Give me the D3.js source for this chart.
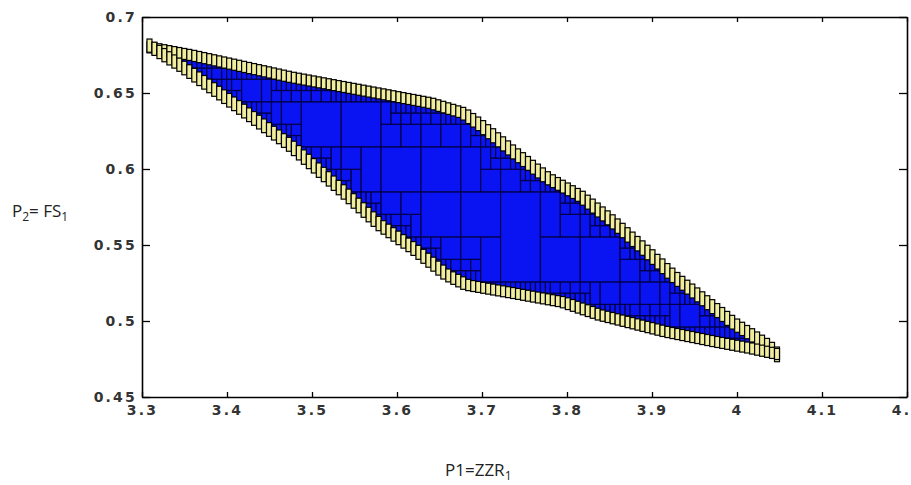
<!DOCTYPE html>
<html>
<head>
<meta charset="utf-8">
<script src="https://cdn.jsdelivr.net/npm/d3@7"></script>
<style>
  body { margin: 0; background: #fff; }
  svg { display: block; }
</style>
</head>
<body>
<div id="chart"></div>
<script>
// 1. data
var xTicks = [3.3, 3.4, 3.5, 3.6, 3.7, 3.8, 3.9, 4, 4.1, 4.2];
var yTicks = [0.45, 0.5, 0.55, 0.6, 0.65, 0.7];

// outer edges of the yellow (undetermined) band, P1 -> P2
var upperEdge = [
  [3.3059, 0.6836], [3.3565, 0.6783], [3.4741, 0.6638], [3.5882, 0.6520],
  [3.6388, 0.6467], [3.6776, 0.6401], [3.6976, 0.6322], [3.7365, 0.6145],
  [3.7765, 0.5974], [3.8153, 0.5855], [3.8541, 0.5684], [3.8941, 0.5487],
  [3.9247, 0.5329], [3.9565, 0.5191], [3.9953, 0.5020], [4.0353, 0.4875],
  [4.0529, 0.4783]
];
var lowerEdge = [
  [3.3059, 0.6789], [3.3482, 0.6638], [3.4153, 0.6368], [3.4741, 0.6125],
  [3.5388, 0.5809], [3.5800, 0.5599], [3.6188, 0.5447], [3.6588, 0.5270],
  [3.6824, 0.5204], [3.7365, 0.5151], [3.7953, 0.5092], [3.8388, 0.5007],
  [3.9176, 0.4895], [3.9765, 0.4829], [4.0153, 0.4789], [4.0529, 0.4743]
];

// paving settings: start box, stop width, thickness of the yellow band
var startBox = [3.3, 4.05, 0.4665, 0.7035];
var eps = 0.008;
var thick = 0.0066;

var width = 911, height = 485;

var x = d3.scaleLinear().domain([3.3, 4.2]).range([142, 907]);
var y = d3.scaleLinear().domain([0.45, 0.7]).range([397, 17]);

// 2. paving
var xMin = upperEdge[0][0], xMax = upperEdge[upperEdge.length - 1][0];
var bis = d3.bisector(function(d) { return d[0]; }).right;

function interp(curve, xv) {
  var i = bis(curve, xv);
  if (i <= 0) return curve[0][1];
  if (i >= curve.length) return curve[curve.length - 1][1];
  var a = curve[i - 1], b = curve[i];
  return a[1] + (b[1] - a[1]) * (xv - a[0]) / (b[0] - a[0]);
}
function rangeOver(curve, x0, x1) {
  var vals = [interp(curve, x0), interp(curve, x1)];
  curve.forEach(function(p) { if (p[0] > x0 && p[0] < x1) vals.push(p[1]); });
  return d3.extent(vals);
}

var inner = [], boundary = [];

function sivia(b) {
  var cx0 = Math.max(b[0], xMin), cx1 = Math.min(b[1], xMax);
  if (cx0 >= cx1) return;
  var u = rangeOver(upperEdge, cx0, cx1), l = rangeOver(lowerEdge, cx0, cx1);
  var uMin = u[0] - thick, uMax = u[1] - thick;
  var lMin = l[0] + thick, lMax = l[1] + thick;
  if (uMax <= lMin || b[2] >= uMax || b[3] <= lMin) return;
  if (b[0] >= xMin && b[1] <= xMax && b[3] <= uMin && b[2] >= lMax) {
    inner.push(b);
    return;
  }
  var w = b[1] - b[0], h = b[3] - b[2];
  if (Math.max(w, h) < eps) {
    var y0 = Math.max(b[2], lMin), y1 = Math.min(b[3], uMax);
    if (y1 > y0) inner.push([b[0], b[1], y0, y1]);
    return;
  }
  if (w >= h) {
    var m = (b[0] + b[1]) / 2;
    sivia([b[0], m, b[2], b[3]]);
    sivia([m, b[1], b[2], b[3]]);
  } else {
    var n = (b[2] + b[3]) / 2;
    sivia([b[0], b[1], b[2], n]);
    sivia([b[0], b[1], n, b[3]]);
  }
}
sivia(startBox);

// yellow columns along both edges, one leaf width each
var dx = (startBox[1] - startBox[0]) / 128;
for (var k = 0; k < 128; k++) {
  var x0 = startBox[0] + k * dx, x1 = x0 + dx;
  var cx0 = Math.max(x0, xMin), cx1 = Math.min(x1, xMax);
  if (cx0 >= cx1) continue;
  var u = rangeOver(upperEdge, cx0, cx1), l = rangeOver(lowerEdge, cx0, cx1);
  boundary.push([x0, x1, u[0] - thick, u[1]]);
  boundary.push([x0, x1, l[0], l[1] + thick]);
}

// 3. svg
var svg = d3.select("#chart").append("svg")
  .attr("width", width)
  .attr("height", height);

svg.append("rect").attr("width", width).attr("height", height).attr("fill", "#fff");

function drawBoxes(data, cls, fill, stroke, sw) {
  svg.append("g").selectAll("rect." + cls)
    .data(data)
    .enter().append("rect")
    .attr("class", cls)
    .attr("x", function(d) { return x(d[0]); })
    .attr("y", function(d) { return y(d[3]); })
    .attr("width", function(d) { return x(d[1]) - x(d[0]); })
    .attr("height", function(d) { return y(d[2]) - y(d[3]); })
    .attr("fill", fill)
    .attr("stroke", stroke)
    .attr("stroke-width", sw);
}
drawBoxes(inner, "in", "#0a14f2", "#00004a", 1.2);
drawBoxes(boundary, "bd", "#f1ed9f", "#000", 1.2);

// 4. axes
function styleAxis(g) {
  g.select(".domain").attr("stroke", "#000").attr("stroke-width", 1.6);
  g.selectAll(".tick line").attr("stroke", "#000").attr("stroke-width", 1.3);
  g.selectAll("text")
    .attr("fill", "#333")
    .style("font-family", "DejaVu Sans")
    .style("font-weight", "bold")
    .style("font-size", "14px")
    .style("letter-spacing", "2.2px");
}

svg.append("g")
  .attr("transform", "translate(0,397)")
  .call(d3.axisBottom(x).tickValues(xTicks).tickSize(-5).tickSizeOuter(0).tickPadding(8)
    .tickFormat(function(d) { return String(d); }))
  .call(styleAxis);

svg.append("g")
  .attr("transform", "translate(0,17)")
  .call(d3.axisTop(x).tickValues(xTicks).tickSize(-5).tickSizeOuter(0).tickFormat(""))
  .call(styleAxis);

svg.append("g")
  .attr("transform", "translate(142,0)")
  .call(d3.axisLeft(y).tickValues(yTicks).tickSize(-8).tickSizeOuter(0).tickPadding(5)
    .tickFormat(function(d) { return String(d); }))
  .call(styleAxis);

svg.append("g")
  .attr("transform", "translate(907,0)")
  .call(d3.axisRight(y).tickValues(yTicks).tickSize(-8).tickSizeOuter(0).tickFormat(""))
  .call(styleAxis);

// 5. axis titles
var yTitle = svg.append("text")
  .attr("x", 12).attr("y", 217)
  .attr("fill", "#222")
  .style("font-family", "Open Sans")
  .style("font-size", "17px");
yTitle.append("tspan").text("P");
yTitle.append("tspan").attr("dy", 4).style("font-size", "12px").text("2");
yTitle.append("tspan").attr("dy", -4).text("= FS");
yTitle.append("tspan").attr("dy", 4).style("font-size", "12px").text("1");

var xTitle = svg.append("text")
  .attr("x", 445).attr("y", 476)
  .attr("fill", "#222")
  .style("font-family", "Open Sans")
  .style("font-size", "17px");
xTitle.append("tspan").text("P1=ZZR");
xTitle.append("tspan").attr("dy", 4).style("font-size", "12px").text("1");
</script>
</body>
</html>
